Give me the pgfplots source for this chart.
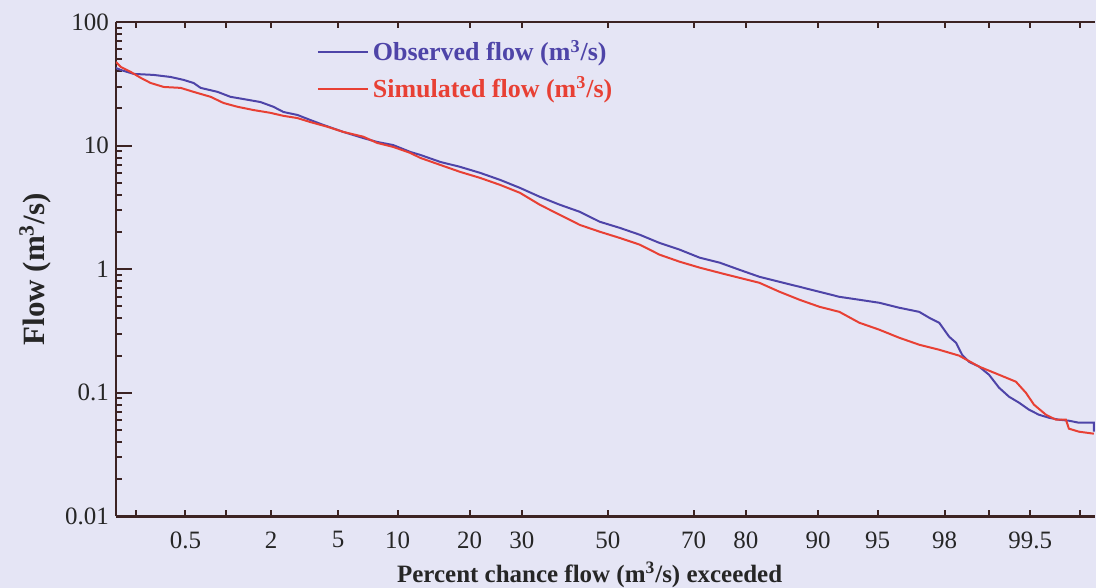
\documentclass[border=0pt]{standalone}
\usepackage{fontspec}
\setmainfont{Liberation Serif}
\usepackage{pgfplots}
\pgfplotsset{compat=1.18}
\usetikzlibrary{backgrounds}
\definecolor{bgpage}{RGB}{229,229,245}
\definecolor{obsblue}{RGB}{78,68,168}
\definecolor{simred}{RGB}{232,64,52}
\definecolor{axisdark}{RGB}{60,35,35}

% x values are standard normal quantiles of the exceedance percentage
\begin{document}
\begin{tikzpicture}
\fill[bgpage] (-58pt,-35.5pt) rectangle (490pt,258.5pt);
\begin{axis}[
    scale only axis,
    width=490pt,
    height=247.5pt,
    at={(0,0)}, anchor=south west,
    xmin=-3, xmax=2.97,
    ymode=log, ymin=0.01, ymax=100,
    axis x line*=box,
    axis y line*=left,
    axis line style={axisdark, line width=1.2pt},
    /pgf/number format/assume math mode=true,
    ticklabel style={font=\fontsize{12.5}{14}\selectfont, text=black!85},
    xtick={-2.576,-2.054,-1.645,-1.282,-0.842,-0.524,0,0.524,0.842,1.282,1.645,2.054,2.576},
    xticklabels={0.5,2,5,10,20,30,50,70,80,90,95,98,99.5},
    minor xtick={-2.878,-2.576,-2.326,-2.054,-1.645,-1.282,-0.842,-0.524,0,0.524,0.842,1.282,1.645,2.054,2.326,2.576,2.878},
    major x tick style={draw=none},
    xticklabel style={yshift=-4pt},
    ytick={0.01,0.1,1,10,100},
    yticklabels={0.01,0.1,1,10,100},
    major tick length=8pt,
    minor tick length=3pt,
    tick style={axisdark, line width=1pt},
    xlabel={\textbf{Percent chance flow (m\textsuperscript{3}/s) exceeded}},
    xlabel style={at={(axis description cs:0.484,-0.118)}, anchor=center, inner sep=0pt, font=\fontsize{12.5}{15}\selectfont, text=black!85},
    ylabel={\textbf{Flow (m\textsuperscript{3}/s)}},
    ylabel style={at={(axis description cs:-0.0827,0.5)}, anchor=center, font=\fontsize{15.5}{18}\selectfont, text=black!85},
    legend style={at={(axis description cs:0.205,0.972)}, anchor=north west, draw=none, fill=none,
        font=\fontsize{13}{15}\selectfont\bfseries, row sep=2.5pt, inner sep=0pt},
    legend cell align=left,
    legend image code/.code={\draw[#1] (0pt,0pt) -- (25pt,0pt);},
]
\addplot[obsblue, line width=1pt] coordinates {
(-3.0,42.5) (-2.970,40.9) (-2.891,38.0) (-2.769,37.3) (-2.666,35.9) (-2.587,34.0)
(-2.526,32.1) (-2.483,29.3) (-2.380,27.2) (-2.301,24.8) (-2.222,23.8) (-2.118,22.5)
(-2.039,20.6) (-1.978,18.7) (-1.893,17.7) (-1.814,16.1) (-1.735,14.7) (-1.613,12.9)
(-1.491,11.5) (-1.406,10.7) (-1.309,10.1) (-1.205,8.89) (-1.144,8.41) (-1.022,7.38)
(-0.901,6.73) (-0.779,6.02) (-0.657,5.28) (-0.536,4.55) (-0.414,3.85) (-0.292,3.32)
(-0.170,2.91) (-0.049,2.42) (0.073,2.16) (0.195,1.90) (0.316,1.63) (0.438,1.44)
(0.560,1.24) (0.682,1.13) (0.803,0.989) (0.925,0.868) (1.047,0.791) (1.169,0.721)
(1.290,0.657) (1.412,0.598) (1.534,0.566) (1.656,0.535) (1.777,0.488) (1.899,0.452)
(1.960,0.405) (2.021,0.369) (2.082,0.284) (2.124,0.254) (2.161,0.203) (2.203,0.178)
(2.264,0.163) (2.325,0.140) (2.386,0.110) (2.447,0.0930) (2.508,0.0832) (2.569,0.0730)
(2.629,0.0665) (2.690,0.0629) (2.751,0.0606) (2.812,0.0595) (2.873,0.0573) (2.964,0.0573)
(2.964,0.0485)
};
\addlegendentry{\textcolor{obsblue}{Observed flow (m\textsuperscript{3}/s)}}
\addplot[simred, line width=1pt] coordinates {
(-3.0,47.5) (-2.970,43.3) (-2.909,39.4) (-2.848,35.3) (-2.788,32.1) (-2.708,29.8)
(-2.605,29.3) (-2.526,27.2) (-2.422,24.8) (-2.343,22.1) (-2.258,20.6) (-2.161,19.4)
(-2.057,18.4) (-1.978,17.4) (-1.893,16.7) (-1.814,15.5) (-1.710,14.2) (-1.613,12.9)
(-1.491,11.8) (-1.406,10.5) (-1.309,9.76) (-1.205,8.73) (-1.144,7.96) (-1.022,6.98)
(-0.901,6.13) (-0.779,5.48) (-0.657,4.81) (-0.536,4.15) (-0.414,3.32) (-0.292,2.75)
(-0.170,2.28) (-0.049,2.01) (0.073,1.79) (0.195,1.58) (0.316,1.31) (0.438,1.15)
(0.560,1.03) (0.682,0.935) (0.803,0.852) (0.925,0.776) (1.047,0.657) (1.169,0.566)
(1.290,0.497) (1.412,0.452) (1.534,0.369) (1.656,0.324) (1.777,0.279) (1.899,0.245)
(2.021,0.223) (2.142,0.200) (2.264,0.163) (2.386,0.140) (2.489,0.123) (2.550,0.100)
(2.599,0.0802) (2.672,0.0665) (2.733,0.0606) (2.794,0.0606) (2.812,0.0513) (2.873,0.0485)
(2.964,0.0467)
};
\addlegendentry{\textcolor{simred}{Simulated flow (m\textsuperscript{3}/s)}}
\end{axis}
\begin{scope}[on background layer]
\fill[bgpage] (current bounding box.south west) rectangle (current bounding box.north east);
\end{scope}
\end{tikzpicture}
\end{document}
